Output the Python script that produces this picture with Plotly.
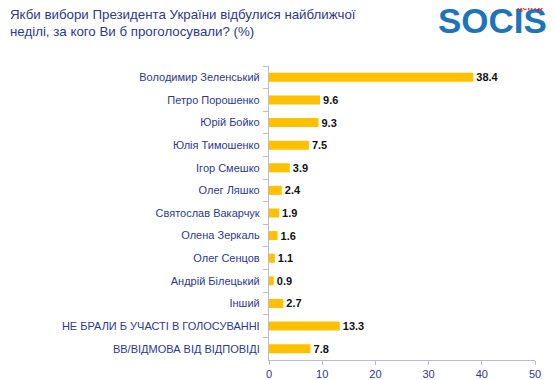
import plotly.graph_objects as go

categories = ["Володимир Зеленський", "Петро Порошенко", "Юрій Бойко", "Юлія Тимошенко",
              "Ігор Смешко", "Олег Ляшко", "Святослав Вакарчук", "Олена Зеркаль",
              "Олег Сенцов", "Андрій Білецький", "Інший",
              "НЕ БРАЛИ Б УЧАСТІ В ГОЛОСУВАННІ", "ВВ/ВІДМОВА ВІД ВІДПОВІДІ"]
values = [38.4, 9.6, 9.3, 7.5, 3.9, 2.4, 1.9, 1.6, 1.1, 0.9, 2.7, 13.3, 7.8]
x_ticks = [0, 10, 20, 30, 40, 50]

FONT = "Liberation Sans, Arial, sans-serif"
LABEL = "#2B3990"
AXIS = "#B8BCD4"

# page body has an 8px margin; figure sized/offset to compensate
W, H = 547, 372
L, R, T, B = 261, 20, 58, 20
PW, PH = W - L - R, H - T - B


def px(fx):
    return (fx - L) / PW


def py(fy):
    return 1 - (fy - T) / PH


fig = go.Figure(go.Bar(
    x=values, y=categories, orientation="h",
    marker=dict(color="#FFC000", line=dict(width=0)),
    text=[f"{v:.1f}" for v in values], textposition="outside",
    textfont=dict(family=FONT, size=11, color="#111111", weight="bold"),
    constraintext="none", cliponaxis=False, width=0.4,
))

fig.update_layout(
    width=W, height=H,
    margin=dict(l=L, r=R, t=T, b=B, autoexpand=False),
    paper_bgcolor="white", plot_bgcolor="white",
    showlegend=False,
    font=dict(family=FONT, color=LABEL, size=11),
    xaxis=dict(range=[0, 50], tickvals=x_ticks, showgrid=False, zeroline=False,
               showline=True, linecolor=AXIS, linewidth=1,
               ticks="outside", ticklen=4, tickcolor=AXIS,
               tickfont=dict(size=11, color=LABEL)),
    yaxis=dict(autorange="reversed", showgrid=False, zeroline=False,
               showline=True, linecolor=AXIS, linewidth=1,
               ticks="outside", ticklen=5, tickcolor=AXIS, tickson="boundaries",
               tickfont=dict(size=11, color=LABEL), ticksuffix="  "),
)

fig.add_annotation(xref="paper", yref="paper", x=px(0), y=py(15), xanchor="left", yanchor="middle",
                   text="Якби вибори Президента України відбулися найближчої<br>неділі, за кого Ви б проголосували? (%)",
                   showarrow=False, align="left",
                   font=dict(family=FONT, size=13.3, color=LABEL))

fig.add_annotation(xref="paper", yref="paper", x=px(541), y=py(13), xanchor="right", yanchor="middle",
                   text="<b>SOCIS</b>", showarrow=False,
                   font=dict(family=FONT, size=35, color="#1C75BC"))
fig.add_annotation(xref="paper", yref="paper", x=px(537), y=py(-1), xanchor="right", yanchor="middle",
                   text="<b>центр</b>", showarrow=False,
                   font=dict(family=FONT, size=9, color="#E8202A"))

fig.write_html("out.html")
